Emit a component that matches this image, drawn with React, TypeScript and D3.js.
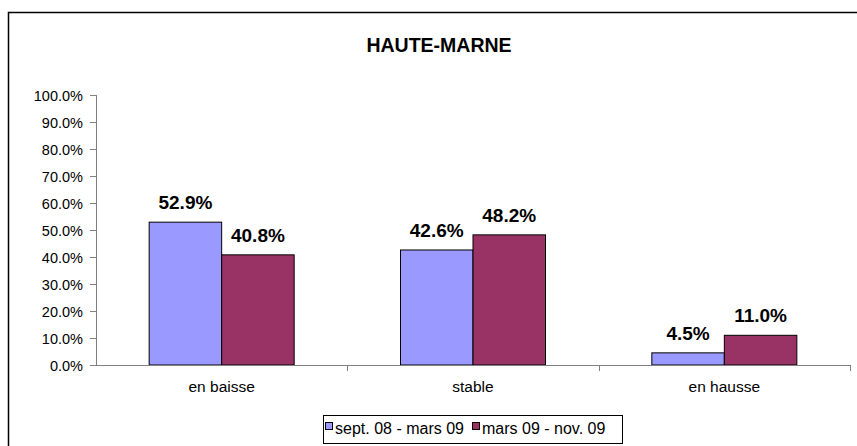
import React from "react";
import * as d3 from "d3";

const categories = ["en baisse", "stable", "en hausse"];
const seriesNames = ["sept. 08 - mars 09", "mars 09 - nov. 09"];
const series1 = [52.9, 42.6, 4.5];
const series2 = [40.8, 48.2, 11.0];
const yTicks = [0, 10, 20, 30, 40, 50, 60, 70, 80, 90, 100];
const colors = ["#9999FF", "#993366"];

export default function App() {
  const width = 857;
  const height = 446;
  const plot = { left: 96, right: 850, top: 95, bottom: 365 };
  const font = "Arial, 'Liberation Sans', sans-serif";

  const x = d3
    .scaleBand<string>()
    .domain(categories)
    .range([plot.left, plot.right]);
  const barW = 72.5;
  const y = d3.scaleLinear().domain([0, 100]).range([plot.bottom, plot.top]);

  const values = [series1, series2];
  const legendX = [325, 472];

  return (
    <svg
      width={width}
      height={height}
      style={{ position: "absolute", left: 0, top: 0, background: "#fff" }}
      fontFamily={font}
    >
      <rect x={8.5} y={12.5} width={900} height={500} fill="#fff" stroke="#000" strokeWidth={1.5} />

      <text x={439} y={52} textAnchor="middle" fontWeight="bold" fontSize={19.5}>
        HAUTE-MARNE
      </text>

      {/* y axis */}
      <line x1={plot.left + 0.5} x2={plot.left + 0.5} y1={plot.top} y2={plot.bottom} stroke="#808080" />
      {yTicks.map((t) => (
        <g key={t}>
          <line x1={plot.left - 6} x2={plot.left} y1={Math.round(y(t)) + 0.5} y2={Math.round(y(t)) + 0.5} stroke="#808080" />
          <text x={83} y={y(t) + 5.5} textAnchor="end" fontSize={14.5}>
            {t.toFixed(1)}%
          </text>
        </g>
      ))}

      {/* bars */}
      {categories.map((c, i) => {
        const cx = (x(c) as number) + x.bandwidth() / 2;
        return (
          <g key={c}>
            {values.map((s, j) => {
              const bx = cx - barW + j * barW;
              return (
                <g key={j}>
                  <rect
                    x={bx}
                    y={y(s[i])}
                    width={barW}
                    height={plot.bottom - y(s[i])}
                    fill={colors[j]}
                    stroke="#000"
                    strokeWidth={1}
                  />
                  <text
                    x={bx + barW / 2}
                    y={y(s[i]) - 13}
                    textAnchor="middle"
                    fontWeight="bold"
                    fontSize={19}
                  >
                    {s[i].toFixed(1)}%
                  </text>
                </g>
              );
            })}
            <text x={cx} y={392} textAnchor="middle" fontSize={15.5}>
              {c}
            </text>
          </g>
        );
      })}

      {/* x axis */}
      <line x1={plot.left} x2={plot.right} y1={plot.bottom + 0.5} y2={plot.bottom + 0.5} stroke="#808080" />
      {categories.map((c) => (
        <line
          key={c}
          x1={Math.round((x(c) as number) + x.bandwidth()) + 0.5}
          x2={Math.round((x(c) as number) + x.bandwidth()) + 0.5}
          y1={plot.bottom}
          y2={plot.bottom + 6}
          stroke="#808080"
        />
      ))}

      {/* legend */}
      <rect x={323.5} y={415.5} width={299} height={28} fill="#fff" stroke="#000" />
      {seriesNames.map((n, j) => {
        const lx = legendX[j];
        return (
          <g key={n}>
            <rect x={lx + 0.5} y={422.5} width={7} height={7} fill={colors[j]} stroke="#000" />
            <text x={lx + 10} y={434} fontSize={16}>
              {n}
            </text>
          </g>
        );
      })}
    </svg>
  );
}
